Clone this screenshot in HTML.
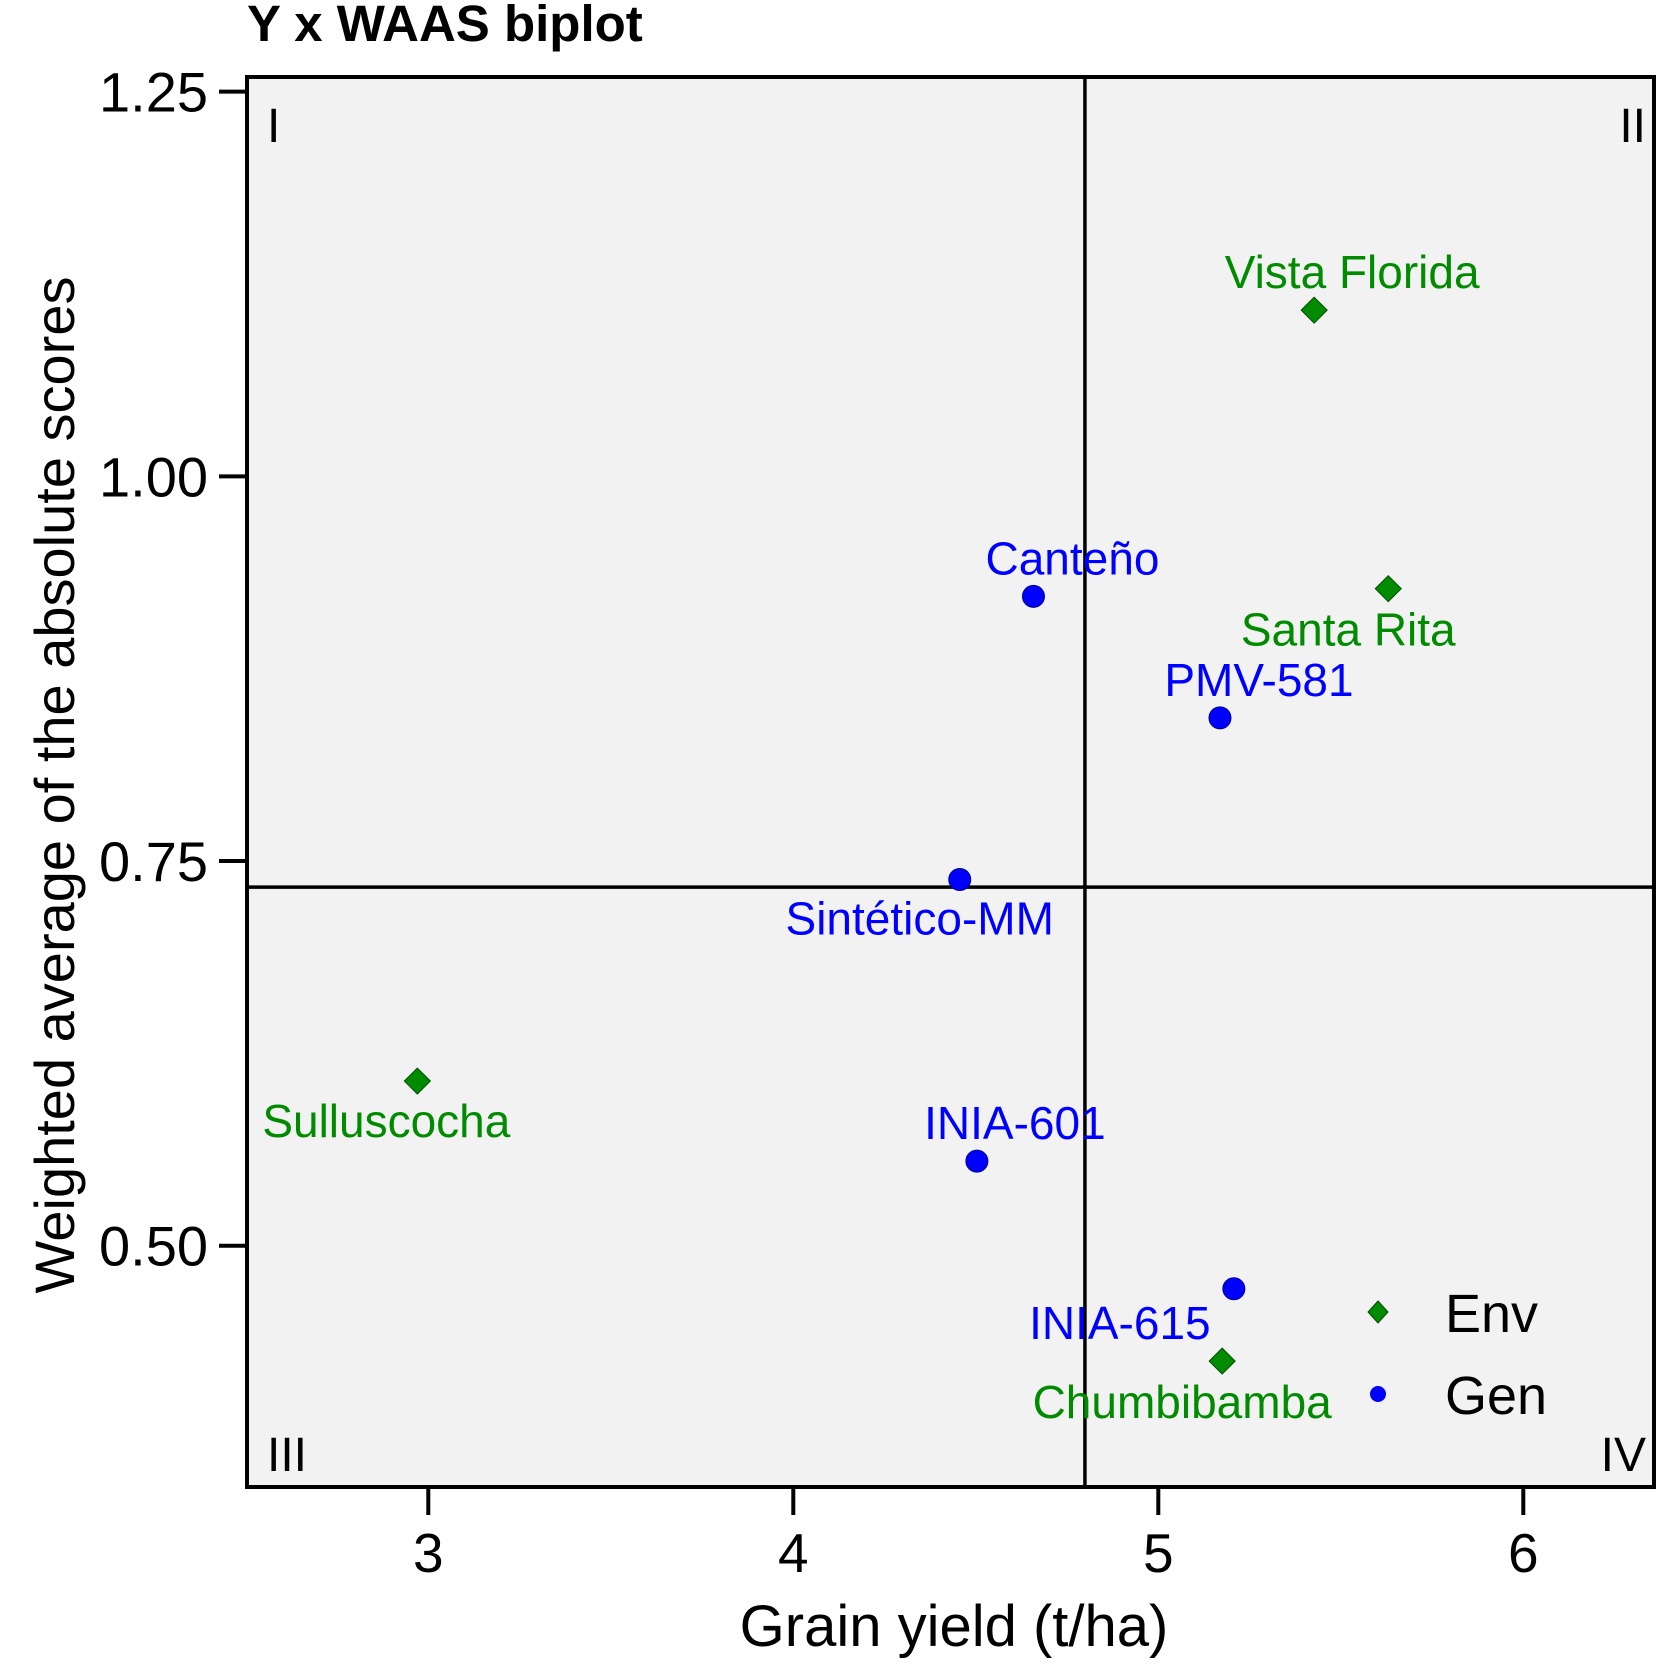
<!DOCTYPE html>
<html><head><meta charset="utf-8"><style>
html,body{margin:0;padding:0;background:#fff;}
svg{display:block;font-family:"Liberation Sans",Arial,sans-serif;}
</style></head><body>
<svg id="chart" width="1678" height="1678" viewBox="0 0 1678 1678">
<text x="247" y="41" font-size="51" font-weight="bold">Y x WAAS biplot</text>
<rect x="247" y="77" width="1407" height="1410" fill="#f2f2f2"/>
<g id="marks"></g>
<rect x="247" y="77" width="1407" height="1410" fill="none" stroke="#000" stroke-width="4"/>
<text x="267" y="142" font-size="48">I</text>
<text x="1646" y="142" font-size="48" text-anchor="end">II</text>
<text x="267" y="1471" font-size="48">III</text>
<text x="1646" y="1471" font-size="48" text-anchor="end">IV</text>
<g id="axes"></g>
<text x="954" y="1646" font-size="58" text-anchor="middle">Grain yield (t/ha)</text>
<text transform="translate(74,785) rotate(-90)" font-size="56" text-anchor="middle">Weighted average of the absolute scores</text>
<g>
<polygon points="1378,1301 1388,1312 1378,1323 1368,1312" fill="#008b00" stroke="#004d00" stroke-width="1"/>
<text x="1445" y="1332" font-size="54">Env</text>
<circle cx="1378" cy="1394" r="8" fill="#0000ff"/>
<text x="1445" y="1414" font-size="54">Gen</text>
</g>
</svg>
<script>
const names = ["Vista Florida","Santa Rita","Sulluscocha","Chumbibamba","Canteño","PMV-581","Sintético-MM","INIA-601","INIA-615"];
const types = ["Env","Env","Env","Env","Gen","Gen","Gen","Gen","Gen"];
const yieldValues = [5.427,5.63,2.97,5.175,4.658,5.169,4.456,4.503,5.207];
const waasValues = [1.108,0.927,0.607,0.425,0.922,0.843,0.738,0.555,0.472];
const xTicks = [3,4,5,6];
const yTicks = [0.50,0.75,1.00,1.25];
const yTickLabels = ["0.50","0.75","1.00","1.25"];
const meanYield = 4.799;
const meanWaas = 0.733;

const NS="http://www.w3.org/2000/svg";
function xS(v){return 428.3+365*(v-3);}
function yS(v){return 1245.7-(v-0.5)*1538.7;}
const labelOff=[[38,-22],[-40,57],[-31,56],[-40,57],[39,-22],[39,-22],[-40,55],[38,-22],[-114,50]];
const marks=document.getElementById('marks');
const axes=document.getElementById('axes');
function mk(tag,attrs,parent){const e=document.createElementNS(NS,tag);for(const k in attrs)e.setAttribute(k,attrs[k]);parent.appendChild(e);return e;}

const vl=mk('line',{x1:xS(meanYield),x2:xS(meanYield),y1:77,y2:1487,stroke:'#000','stroke-width':3.5},marks);


const hl=mk('line',{x1:247,x2:1654,y1:yS(meanWaas),y2:yS(meanWaas),stroke:'#000','stroke-width':3.5},marks);



names.forEach((n,i)=>{
  const cx=xS(yieldValues[i]), cy=yS(waasValues[i]);
  const isEnv=types[i]==="Env";
  const col=isEnv?'#008b00':'#0000ff';
  let m;
  if(isEnv){
    m=mk('polygon',{points:`${cx},${cy-13} ${cx+13},${cy} ${cx},${cy+13} ${cx-13},${cy}`,fill:col,stroke:'#004d00','stroke-width':1},marks);
  } else {
    m=mk('circle',{cx:cx,cy:cy,r:11,fill:col,stroke:'#00008b','stroke-width':1},marks);
  }
  
  
  const t=mk('text',{x:cx+labelOff[i][0],y:cy+labelOff[i][1],'font-size':46,'text-anchor':'middle',fill:col},marks);
  t.textContent=n;
  
  
});

xTicks.forEach(v=>{
  const x=xS(v);
  const l=mk('line',{x1:x,x2:x,y1:1487,y2:1515,stroke:'#000','stroke-width':4},axes);
  
  
  const t=mk('text',{x:x,y:1572,'font-size':55,'text-anchor':'middle'},axes);
  t.textContent=v;
  
  
});
yTicks.forEach((v,i)=>{
  const y=yS(v);
  const l=mk('line',{x1:219,x2:247,y1:y,y2:y,stroke:'#000','stroke-width':4},axes);
  
  
  const t=mk('text',{x:208,y:y+20,'font-size':56,'text-anchor':'end'},axes);
  t.textContent=yTickLabels[i];
  
  
});
</script>
</body></html>
